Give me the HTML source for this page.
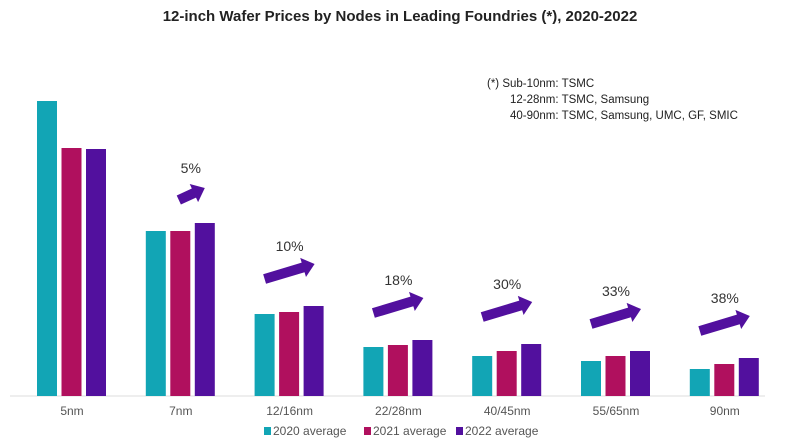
<!DOCTYPE html>
<html><head><meta charset="utf-8"><style>
body{margin:0;background:#fff;font-family:"Liberation Sans",sans-serif}
svg text{font-family:"Liberation Sans",sans-serif}
</style></head><body>
<svg id="chart" width="800" height="443">
<text x="400" y="21" text-anchor="middle" font-size="15" font-weight="bold" fill="#222">12-inch Wafer Prices by Nodes in Leading Foundries (*), 2020-2022</text>
<g font-size="11.5" fill="#222">
<text x="487" y="87">(*) Sub-10nm: TSMC</text>
<text x="510" y="103">12-28nm: TSMC, Samsung</text>
<text x="510" y="119">40-90nm: TSMC, Samsung, UMC, GF, SMIC</text>
</g>
<line x1="10" y1="396" x2="765" y2="396" stroke="#ddd"/>
<g id="bars"></g><g id="labels"></g><g id="arrows"></g>
<g font-size="12" fill="#555">
<rect x="264" y="427" width="7" height="8" fill="#12a5b5"/><text x="273" y="435">2020 average</text>
<rect x="364" y="427" width="7" height="8" fill="#b0105e"/><text x="373" y="435">2021 average</text>
<rect x="456" y="427" width="7" height="8" fill="#52109e"/><text x="465" y="435">2022 average</text>
</g>
</svg>
<script>
const categories=["5nm","7nm","12/16nm","22/28nm","40/45nm","55/65nm","90nm"];
const s2020=[295,165,82,49,40,35,27];
const s2021=[248,165,84,51,45,40,32];
const s2022=[247,173,90,56,52,45,38];
const growth=["","5%","10%","18%","30%","33%","38%"];
const NS="http://www.w3.org/2000/svg";
const base=396, scale=1.0;
const xc=i=>72+i*108.8;
const y=v=>base-v*scale;
const series=[[s2020,"#12a5b5"],[s2021,"#b0105e"],[s2022,"#52109e"]];
const bars=document.getElementById("bars"),labels=document.getElementById("labels"),arrows=document.getElementById("arrows");
categories.forEach((c,i)=>{
 series.forEach(([d,col],j)=>{
  const r=document.createElementNS(NS,"rect");
  r.setAttribute("x",xc(i)-35+j*24.5);r.setAttribute("width",20);
  r.setAttribute("y",y(d[i]));r.setAttribute("height",d[i]*scale);r.setAttribute("fill",col);
  
  
  bars.appendChild(r);
 });
 const t=document.createElementNS(NS,"text");
 t.setAttribute("x",xc(i));t.setAttribute("y",415);t.setAttribute("text-anchor","middle");
 t.setAttribute("font-size","12");t.setAttribute("fill","#555");t.textContent=c;
 
 
 labels.appendChild(t);
 if(growth[i]){
  const top=y(Math.max(s2020[i],s2021[i],s2022[i]));
  let ay=top-27, x0=xc(i)-25, x1=xc(i)+25, dy=-15, lx=xc(i), ly=ay+dy-13;
  if(i==1){x0=xc(i)-2;x1=xc(i)+24;ay=top-23;dy=-12;lx=xc(i)+10;ly=top-50;}
  const g=document.createElementNS(NS,"g");
  
  
  const ang=Math.atan2(dy,x1-x0), L=Math.hypot(x1-x0,dy);
  g.setAttribute("transform",`translate(${x0},${ay}) rotate(${ang*180/Math.PI})`);
  const p=document.createElementNS(NS,"polygon");
  p.setAttribute("points",`0,-5 ${L-12},-5 ${L-12},-10 ${L},0 ${L-12},10 ${L-12},5 0,5`);
  p.setAttribute("fill","#52109e");g.appendChild(p);arrows.appendChild(g);
  const lt=document.createElementNS(NS,"text");
  lt.setAttribute("x",lx);lt.setAttribute("y",ly);lt.setAttribute("text-anchor","middle");
  lt.setAttribute("font-size","14");lt.setAttribute("fill","#333");lt.textContent=growth[i];
  
  
  arrows.appendChild(lt);
 }
});
</script>
</body></html>
